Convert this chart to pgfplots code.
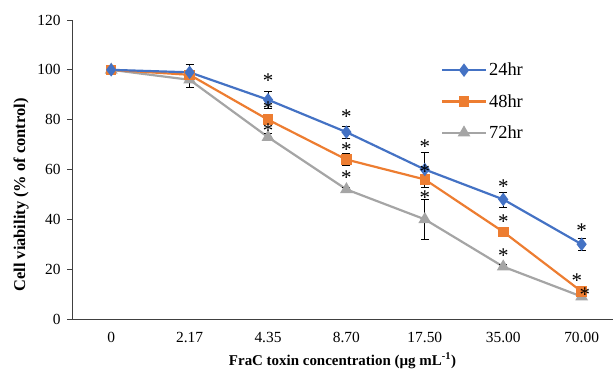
\documentclass[border=0pt]{standalone}
\usepackage{pgfplots}
\pgfplotsset{compat=1.18}
\usepackage{pgfplotstable}
\usepackage{fontspec}
\setmainfont{Liberation Serif}
\definecolor{cblue}{HTML}{4472C4}
\definecolor{corange}{HTML}{ED7D31}
\definecolor{cgray}{HTML}{A5A5A5}
\pgfplotstableread{
x y e
0 100 0
1 99 3
2 88 3.5
3 75 2.5
4 60 7
5 48 3
6 30 2.5
}\tA
\pgfplotstableread{
x y e
0 100 0
1 98 0.8
2 80 2
3 64 2.5
4 56 2
5 35 1.5
6 11 1.5
}\tB
\pgfplotstableread{
x y e
0 100 0
1 96 3
2 73 1.5
3 52 1
4 40 8
5 21 1
6 9 1
}\tC
\pgfplotstableread{
x y
2 95.5
2 84.3
2 75.4
3 81.4
3 68.0
3 56.7
4 69.1
4 59.3
4 48.7
5 53.3
5 38.9
5 25.4
6 35.5
5.94 15.2
6.04 9.8
}\tS
\newcommand{\sigstar}{*}
\begin{document}
\begin{tikzpicture}
\path[use as bounding box] (0,0) rectangle (613bp,371bp);
\begin{axis}[
  at={(72bp,52bp)}, anchor=south west,
  scale only axis, width=541bp, height=299bp,
  xmin=-0.5, xmax=6.4, ymin=0, ymax=120,
  axis x line*=bottom, axis y line*=left,
  axis line style={line width=0.8pt, color=black!75, -},
  xtick={0,1,2,3,4,5,6},
  xticklabels={0,2.17,4.35,8.70,17.50,35.00,70.00},
  ytick={0,20,40,60,80,100,120},
  major x tick style={draw=none},
  major y tick style={line width=0.8pt, black!75},
  tick align=outside, major tick length=5bp,
  /pgf/number format/assume math mode=true,
  tick label style={font=\fontsize{15.5}{17}\selectfont},
  xticklabel style={yshift=-5bp},
  yticklabel style={xshift=-3bp},
  xlabel={\textbf{FraC toxin concentration (µg mL\textsuperscript{-1})}},
  xlabel style={font=\fontsize{15}{17}\selectfont, at={(axis description cs:0.5,0)}, anchor=base, yshift=-46bp},
  ylabel={\textbf{Cell viability (\% of control)}},
  every axis y label/.style={font=\fontsize{16.5}{18}\selectfont, at={(axis description cs:-0.094,0.415)}, anchor=center, rotate=90},
  error bars/error bar style={line width=0.7pt, black},
  error bars/error mark options={rotate=90, mark size=4bp, line width=0.7pt, black},
  clip=false,
]
\addplot[cgray, line width=2.2pt, mark=triangle*, mark size=5.2pt, mark options={solid},
  error bars/.cd, y dir=both, y explicit] table[x=x,y=y,y error=e] {\tC};
\addplot[corange, line width=2.2pt, mark=square*, mark size=4.2pt,
  error bars/.cd, y dir=both, y explicit] table[x=x,y=y,y error=e] {\tB};
\addplot[cblue, line width=2.2pt, mark=diamond*, mark size=5pt,
  error bars/.cd, y dir=both, y explicit] table[x=x,y=y,y error=e] {\tA};
\addplot[draw=none, mark=none, nodes near coords={\sigstar}, nodes near coords align={center},
  every node near coord/.append style={font=\fontsize{21}{21}\selectfont, black, inner sep=0pt}]
  table[x=x,y=y] {\tS};
\end{axis}
\begin{axis}[
  at={(72bp,52bp)}, anchor=south west,
  scale only axis, width=541bp, height=299bp,
  xmin=-0.5, xmax=6.4, ymin=0, ymax=120, hide axis,
  legend style={at={(0.676,0.87)}, anchor=north west, draw=none, fill=none,
    font=\fontsize{18.5}{20}\selectfont, row sep=13bp},
  legend cell align=left,
  legend image code/.code={\draw[mark repeat=2,mark phase=2] plot coordinates {(0bp,0bp) (22bp,0bp) (44bp,0bp)};},
]
\addlegendimage{cblue, line width=2.2pt, mark=diamond*, mark size=5pt}
\addlegendentry{24hr}
\addlegendimage{corange, line width=2.2pt, mark=square*, mark size=4.2pt}
\addlegendentry{48hr}
\addlegendimage{cgray, line width=2.2pt, mark=triangle*, mark size=5.2pt}
\addlegendentry{72hr}
\end{axis}
\end{tikzpicture}
\end{document}
